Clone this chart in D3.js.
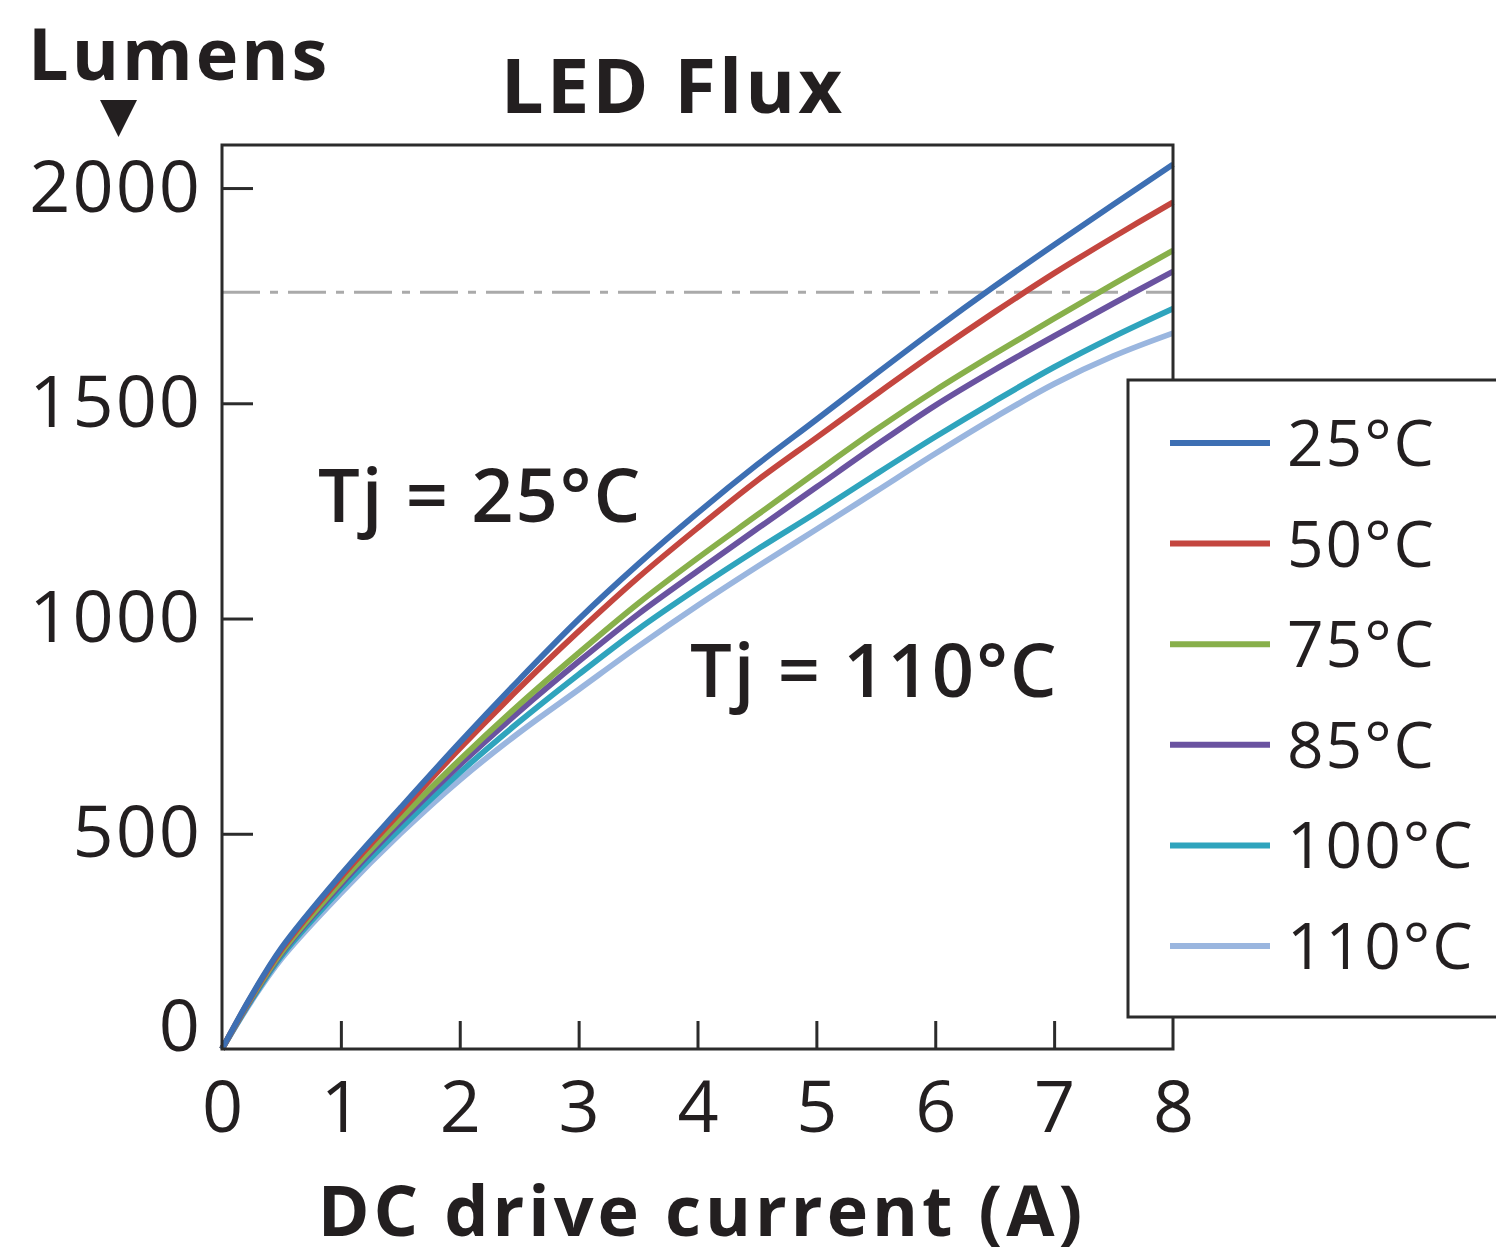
<!DOCTYPE html>
<html>
<head>
<meta charset="utf-8">
<script src="https://cdn.jsdelivr.net/npm/d3@7"></script>
<style>
  html, body { margin: 0; padding: 0; background: #fff; }
  svg { display: block; }
  text { font-family: "Open Sans", "Noto Sans", sans-serif; fill: #231f20; }
</style>
</head>
<body>
<svg id="chart" width="1496" height="1256"></svg>
<script>
// ---- Data ----
const currents = [0, 0.25, 0.5, 1, 1.5, 2, 2.5, 3, 3.5, 4, 4.5, 5, 5.5, 6, 6.5, 7, 7.5, 8];
const seriesNames = ["25°C", "50°C", "75°C", "85°C", "100°C", "110°C"];
const flux25  = [0, 125, 235, 405, 560, 712, 858, 998, 1126, 1245, 1357, 1462, 1568, 1672, 1772, 1868, 1962, 2055];
const flux50  = [0, 123, 231, 399, 550, 698, 838, 970, 1095, 1210, 1320, 1420, 1520, 1618, 1712, 1802, 1886, 1967];
const flux75  = [0, 120, 225, 388, 535, 672, 800, 920, 1035, 1140, 1240, 1340, 1438, 1530, 1615, 1697, 1777, 1855];
const flux85  = [0, 118, 222, 382, 526, 660, 784, 900, 1010, 1110, 1208, 1305, 1402, 1495, 1578, 1656, 1732, 1806];
const flux100 = [0, 115, 216, 372, 512, 642, 760, 870, 975, 1070, 1160, 1246, 1335, 1422, 1505, 1584, 1655, 1720];
const flux110 = [0, 112, 210, 362, 500, 625, 735, 835, 935, 1030, 1120, 1207, 1295, 1383, 1467, 1545, 1610, 1663];
const seriesColors = ["#3d6fb3", "#c4463f", "#88b04b", "#6a53a0", "#2fa4bd", "#9ab6df"];
const xTicks = [0, 1, 2, 3, 4, 5, 6, 7, 8];
const yTicks = [0, 500, 1000, 1500, 2000];
const referenceLevel = 1758;

const allSeries = [flux25, flux50, flux75, flux85, flux100, flux110];

// ---- Layout ----
const svg = d3.select("#chart");
const x = d3.scaleLinear().domain([0, 8]).range([222, 1173]);
const y = d3.scaleLinear().domain([0, 2100]).range([1049, 145]);

// reference dash-dot line
svg.append("line")
  .attr("x1", x(0)).attr("x2", x(8))
  .attr("y1", y(referenceLevel)).attr("y2", y(referenceLevel))
  .attr("stroke", "#aaaaaa").attr("stroke-width", 3)
  .attr("stroke-dasharray", "38,10,8,10");

// curves
const line = d3.line()
  .x((d, i) => x(currents[i]))
  .y(d => y(d))
  .curve(d3.curveCatmullRom.alpha(0.5));

for (let k = allSeries.length - 1; k >= 0; k--) {
  svg.append("path")
    .datum(allSeries[k])
    .attr("d", line)
    .attr("fill", "none")
    .attr("stroke", seriesColors[k])
    .attr("stroke-width", 5.8)
    .attr("stroke-linejoin", "round");
}

// frame
svg.append("rect")
  .attr("x", x(0)).attr("y", y(2100))
  .attr("width", x(8) - x(0)).attr("height", y(0) - y(2100))
  .attr("fill", "none").attr("stroke", "#2b2b2b").attr("stroke-width", 3);

// axes
const yAxis = d3.axisLeft(y).tickValues(yTicks).tickFormat(d3.format("d"))
  .tickSizeInner(-31).tickSizeOuter(0).tickPadding(20);
const gy = svg.append("g").attr("transform", `translate(${x(0)},0)`).call(yAxis);
gy.select(".domain").remove();
gy.selectAll(".tick line").attr("stroke", "#2b2b2b").attr("stroke-width", 3);
gy.selectAll(".tick text").style("font-size", "72px").style("letter-spacing", "2px")
  .style("font-family", "Open Sans, sans-serif").attr("fill", "#231f20");
gy.selectAll(".tick").filter(d => d === 0).select("text").attr("y", -22);
gy.selectAll(".tick").filter(d => d === 0).select("line").remove();

const xAxis = d3.axisBottom(x).tickValues(xTicks).tickFormat(d3.format("d"))
  .tickSizeInner(-28).tickSizeOuter(0).tickPadding(32);
const gx = svg.append("g").attr("transform", `translate(0,${y(0)})`).call(xAxis);
gx.select(".domain").remove();
gx.selectAll(".tick line").attr("stroke", "#2b2b2b").attr("stroke-width", 3);
gx.selectAll(".tick text").style("font-size", "72px").style("font-family", "Open Sans, sans-serif").attr("fill", "#231f20");
gx.selectAll(".tick").filter(d => d === 0 || d === 8).select("line").remove();

// titles
svg.append("text").attr("x", 673).attr("y", 113).attr("text-anchor", "middle")
  .style("font-size", "76px").style("font-weight", "700").style("letter-spacing", "3px").text("LED Flux");
svg.append("text").attr("x", 28).attr("y", 80)
  .style("font-size", "72px").style("font-weight", "700").style("letter-spacing", "3px").text("Lumens");
svg.append("path").attr("d", "M100,100 L137,100 L118.5,137 Z").attr("fill", "#231f20");
svg.append("text").attr("x", 702).attr("y", 1236).attr("text-anchor", "middle")
  .style("font-size", "70px").style("font-weight", "700").style("letter-spacing", "4px").text("DC drive current (A)");

// annotations
svg.append("text").attr("x", 318).attr("y", 522)
  .style("font-size", "74px").style("font-weight", "600").style("letter-spacing", "2px").text("Tj = 25°C");
svg.append("text").attr("x", 690).attr("y", 697)
  .style("font-size", "74px").style("font-weight", "600").style("letter-spacing", "2px").text("Tj = 110°C");

// legend
const lg = svg.append("g");
lg.append("rect").attr("x", 1128).attr("y", 380).attr("width", 420).attr("height", 637)
  .attr("fill", "#fff").attr("stroke", "#2b2b2b").attr("stroke-width", 3);
seriesNames.forEach((name, i) => {
  const yy = 443 + i * 100.6;
  lg.append("line").attr("x1", 1170).attr("x2", 1270).attr("y1", yy).attr("y2", yy)
    .attr("stroke", seriesColors[i]).attr("stroke-width", 6);
  lg.append("text").attr("x", 1287).attr("y", yy).attr("dy", "0.36em")
    .style("font-size", "64px").style("letter-spacing", "2px").text(name);
});
</script>
</body>
</html>
